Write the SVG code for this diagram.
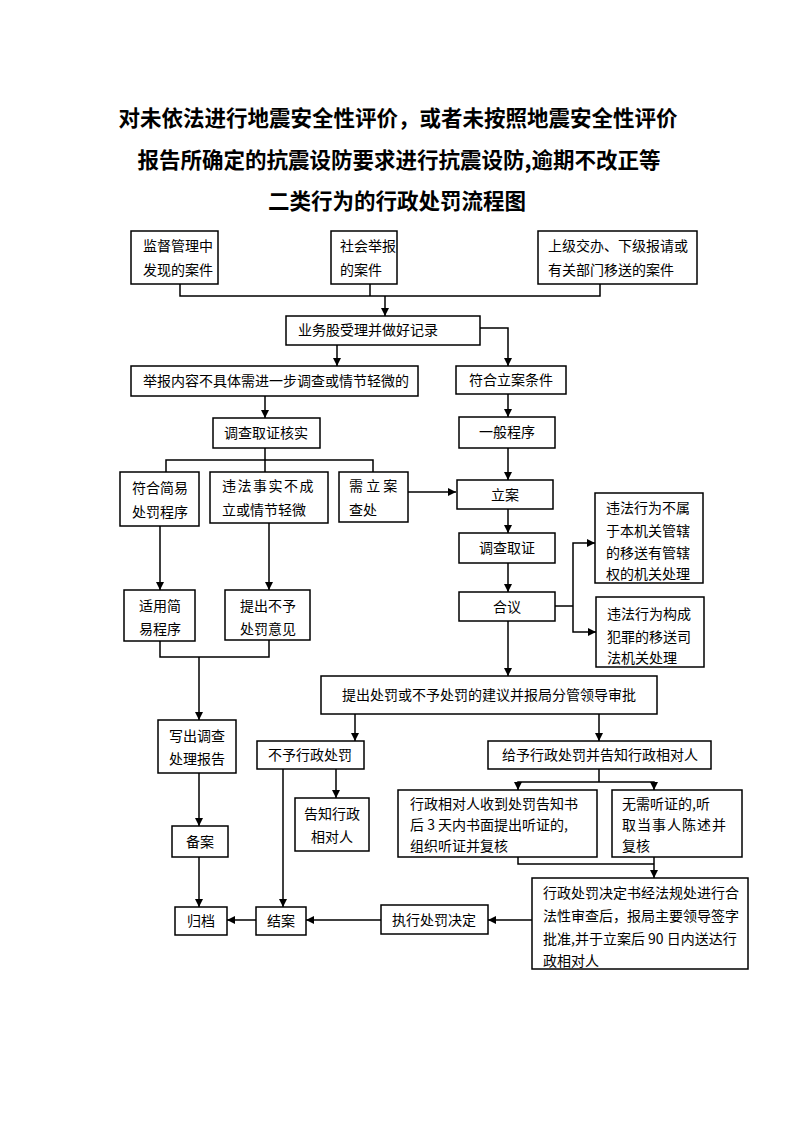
<svg xmlns="http://www.w3.org/2000/svg" width="793" height="1122" viewBox="0 0 793 1122">
<defs>
<style>
.t{font-family:"Noto Sans CJK SC","Noto Sans",sans-serif;font-size:21.5px;font-weight:bold;fill:#000;text-anchor:middle}
.b rect{fill:#fff;stroke:#000;stroke-width:1.5}
.b text{font-family:"Noto Sans CJK SC","Noto Sans",sans-serif;font-size:14px;fill:#000}
.c{text-anchor:middle}
#connectors path{fill:none;stroke:#000;stroke-width:1.5}
</style>
<marker id="a" viewBox="0 0 10 10" refX="10" refY="5" markerWidth="9" markerHeight="8" orient="auto" markerUnits="userSpaceOnUse"><path d="M0,0 L10,5 L0,10 z" fill="#000"/></marker>
</defs>
<rect width="793" height="1122" fill="#fff"/>
<g id="title">
<text class="t" x="398" y="126">对未依法进行地震安全性评价，或者未按照地震安全性评价</text>
<text class="t" x="399" y="168">报告所确定的抗震设防要求进行抗震设防,逾期不改正等</text>
<text class="t" x="397" y="209">二类行为的行政处罚流程图</text>
</g>
<g id="connectors">
<path d="M180,284 V296 H600 V284 M370,284 V296"/>
<path d="M385,296 V316" marker-end="url(#a)"/>
<path d="M337,345 V366" marker-end="url(#a)"/>
<path d="M480,328 H508 V366" marker-end="url(#a)"/>
<path d="M265,396 V418" marker-end="url(#a)"/>
<path d="M265,448 V472 M166,472 V460 H373 V472"/>
<path d="M408,492 H456" marker-end="url(#a)"/>
<path d="M508,394 V417" marker-end="url(#a)"/>
<path d="M508,448 V480" marker-end="url(#a)"/>
<path d="M508,509 V533" marker-end="url(#a)"/>
<path d="M508,563 V592" marker-end="url(#a)"/>
<path d="M555,606 H573"/>
<path d="M573,606 V543 H595" marker-end="url(#a)"/>
<path d="M573,606 V632 H596" marker-end="url(#a)"/>
<path d="M508,621 V676" marker-end="url(#a)"/>
<path d="M160,526 V590" marker-end="url(#a)"/>
<path d="M269,523 V590" marker-end="url(#a)"/>
<path d="M160,641 V657 H269 V640"/>
<path d="M199,657 V720" marker-end="url(#a)"/>
<path d="M199,773 V826" marker-end="url(#a)"/>
<path d="M199,857 V907" marker-end="url(#a)"/>
<path d="M355,714 V741" marker-end="url(#a)"/>
<path d="M599,714 V741" marker-end="url(#a)"/>
<path d="M283,769 V907" marker-end="url(#a)"/>
<path d="M336,769 V798" marker-end="url(#a)"/>
<path d="M599,769 V782"/>
<path d="M599,782 H518 V790" marker-end="url(#a)"/>
<path d="M599,782 H654 V790" marker-end="url(#a)"/>
<path d="M518,857 V864 H654"/>
<path d="M654,857 V878" marker-end="url(#a)"/>
<path d="M532,920 H488" marker-end="url(#a)"/>
<path d="M381,920 H306" marker-end="url(#a)"/>
<path d="M256,920 H227" marker-end="url(#a)"/>
</g>
<g id="n1" class="b"><rect x="131" y="231" width="87" height="53"/><text x="143" y="251">监督管理中</text><text x="143" y="275">发现的案件</text></g>
<g id="n2" class="b"><rect x="331" y="231" width="66" height="53"/><text x="340" y="251">社会举报</text><text x="340" y="275">的案件</text></g>
<g id="n3" class="b"><rect x="538" y="231" width="159" height="53"/><text x="548" y="251">上级交办、下级报请或</text><text x="548" y="275">有关部门移送的案件</text></g>
<g id="n4" class="b"><rect x="286" y="316" width="194" height="29"/><text x="298" y="335">业务股受理并做好记录</text></g>
<g id="n5" class="b"><rect x="131" y="366" width="287" height="30"/><text x="143" y="386">举报内容不具体需进一步调查或情节轻微的</text></g>
<g id="n6" class="b"><rect x="456" y="366" width="110" height="28"/><text class="c" x="511" y="385">符合立案条件</text></g>
<g id="n7" class="b"><rect x="213" y="418" width="107" height="30"/><text class="c" x="266" y="438">调查取证核实</text></g>
<g id="n8" class="b"><rect x="459" y="417" width="96" height="31"/><text class="c" x="507" y="437">一般程序</text></g>
<g id="n9" class="b"><rect x="120" y="472" width="79" height="54"/><text class="c" x="160" y="493">符合简易</text><text class="c" x="160" y="517">处罚程序</text></g>
<g id="n10" class="b"><rect x="210" y="472" width="118" height="51"/><text x="222" y="491" letter-spacing="1.5">违法事实不成</text><text x="222" y="515">立或情节轻微</text></g>
<g id="n11" class="b"><rect x="339" y="472" width="69" height="50"/><text x="349" y="491" xml:space="preserve">需 立 案</text><text x="349" y="515">查处</text></g>
<g id="n12" class="b"><rect x="457" y="480" width="96" height="29"/><text class="c" x="505" y="500">立案</text></g>
<g id="n13" class="b"><rect x="459" y="533" width="96" height="30"/><text class="c" x="507" y="553">调查取证</text></g>
<g id="n14" class="b"><rect x="459" y="592" width="96" height="29"/><text class="c" x="507" y="612">合议</text></g>
<g id="n15" class="b"><rect x="595" y="493" width="108" height="90"/><text x="606" y="513">违法行为不属</text><text x="606" y="536">于本机关管辖</text><text x="606" y="558">的移送有管辖</text><text x="606" y="579">权的机关处理</text></g>
<g id="n16" class="b"><rect x="596" y="597" width="108" height="70"/><text x="607" y="619">违法行为构成</text><text x="607" y="642">犯罪的移送司</text><text x="607" y="663">法机关处理</text></g>
<g id="n17" class="b"><rect x="124" y="590" width="71" height="51"/><text class="c" x="160" y="611">适用简</text><text class="c" x="160" y="634">易程序</text></g>
<g id="n18" class="b"><rect x="225" y="590" width="85" height="50"/><text class="c" x="268" y="611">提出不予</text><text class="c" x="268" y="634">处罚意见</text></g>
<g id="n19" class="b"><rect x="321" y="676" width="336" height="38"/><text class="c" x="489" y="700">提出处罚或不予处罚的建议并报局分管领导审批</text></g>
<g id="n20" class="b"><rect x="158" y="720" width="78" height="53"/><text class="c" x="197" y="741">写出调查</text><text class="c" x="197" y="764">处理报告</text></g>
<g id="n21" class="b"><rect x="257" y="741" width="107" height="28"/><text class="c" x="310" y="760">不予行政处罚</text></g>
<g id="n22" class="b"><rect x="488" y="741" width="223" height="28"/><text class="c" x="600" y="760">给予行政处罚并告知行政相对人</text></g>
<g id="n23" class="b"><rect x="295" y="798" width="74" height="53"/><text class="c" x="332" y="819">告知行政</text><text class="c" x="332" y="842">相对人</text></g>
<g id="n24" class="b"><rect x="398" y="790" width="199" height="67"/><text x="410" y="809">行政相对人收到处罚告知书</text><text x="410" y="830" xml:space="preserve">后 3 天内书面提出听证的,</text><text x="410" y="851">组织听证并复核</text></g>
<g id="n25" class="b"><rect x="612" y="790" width="130" height="67"/><text x="622" y="809">无需听证的,听</text><text x="622" y="830" letter-spacing="1">取当事人陈述并</text><text x="622" y="851">复核</text></g>
<g id="n26" class="b"><rect x="172" y="826" width="56" height="31"/><text class="c" x="200" y="847">备案</text></g>
<g id="n27" class="b"><rect x="532" y="878" width="216" height="91"/><text x="543" y="898">行政处罚决定书经法规处进行合</text><text x="543" y="921">法性审查后，报局主要领导签字</text><text x="543" y="944" xml:space="preserve">批准,并于立案后 90 日内送达行</text><text x="543" y="966">政相对人</text></g>
<g id="n28" class="b"><rect x="381" y="905" width="107" height="29"/><text class="c" x="434" y="925">执行处罚决定</text></g>
<g id="n29" class="b"><rect x="256" y="907" width="50" height="28"/><text class="c" x="281" y="926">结案</text></g>
<g id="n30" class="b"><rect x="175" y="907" width="52" height="28"/><text class="c" x="201" y="926">归档</text></g>
</svg>
